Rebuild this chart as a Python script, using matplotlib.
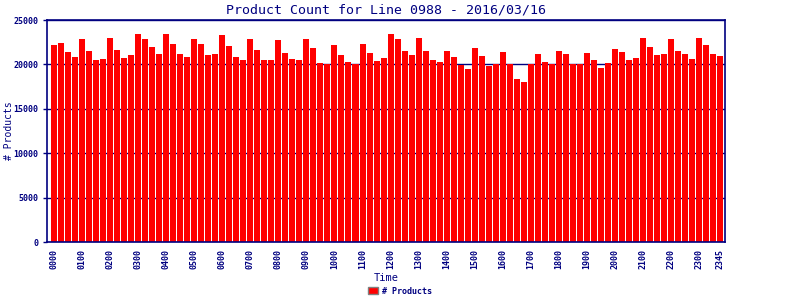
import matplotlib
matplotlib.use('Agg')
import matplotlib.pyplot as plt
import numpy as np

# 15-minute slots for 2016/03/16, line 0988
times = ['%02d%02d' % (h, m) for h in range(24) for m in (0, 15, 30, 45)]
counts = [
    22180, 22400, 21390, 20830, 22860, 21500, 20490, 20600,
    22970, 21620, 20710, 21050, 23420, 22860, 21950, 21170,
    23420, 22290, 21170, 20830, 22860, 22290, 21050, 21170,
    23310, 22070, 20830, 20490, 22860, 21620, 20490, 20490,
    22740, 21280, 20600, 20490, 22860, 21840, 20150, 20040,
    22180, 21050, 20260, 20040, 22290, 21280, 20380, 20710,
    23420, 22860, 21500, 21050, 22970, 21500, 20490, 20260,
    21500, 20830, 19920, 19470, 21840, 20940, 19810, 20040,
    21390, 20040, 18350, 18010, 20040, 21170, 20260, 20040,
    21500, 21170, 20040, 20040, 21280, 20490, 19590, 20150,
    21730, 21390, 20490, 20710, 22970, 21950, 21050, 21170,
    22860, 21500, 21170, 20600, 22970, 22180, 21170, 20940,
]
yticks = [0, 5000, 10000, 15000, 20000, 25000]

navy = '#000080'
plt.rcParams['font.family'] = ['DejaVu Sans Mono']

fig = plt.figure(figsize=(8, 3), dpi=100)
ax = fig.add_axes([47 / 800, 58 / 300, 678 / 800, 222 / 300])

x = np.arange(len(counts))
ax.bar(x, counts, width=6 / 7, color='#ff0000', zorder=2, label='# Products')

ax.set_xlim(-1.0, len(counts) - 0.3)
ax.set_ylim(0, 25000)
ax.set_yticks(yticks)
ax.set_yticklabels([str(v) for v in yticks], fontsize=6, fontweight='bold', color=navy)
ax.yaxis.grid(True, color=navy, linewidth=1.0, zorder=1)
ax.set_axisbelow(True)

tick_idx = list(range(0, len(times), 4)) + [len(times) - 1]
ax.set_xticks(tick_idx)
ax.set_xticklabels([times[i] for i in tick_idx], rotation=90, fontsize=6,
                   fontweight='bold', color=navy)
ax.tick_params(axis='x', length=0, pad=5)
ax.tick_params(axis='y', length=3, width=1, color=navy, pad=3)

for s in ax.spines.values():
    s.set_color(navy)
    s.set_linewidth(1.2)

ax.set_title('Product Count for Line 0988 - 2016/03/16', fontsize=9.5, color=navy, pad=5)
ax.set_xlabel('Time', fontsize=7.5, color=navy, labelpad=3)
fig.text(9 / 800, 0.5 * (58 + 280) / 300, '# Products', rotation=90, fontsize=7,
         color=navy, ha='center', va='center')

leg = fig.legend(loc='lower center', bbox_to_anchor=(0.5, -0.01), frameon=False,
                 fontsize=6, handlelength=1.2, handleheight=0.9, handletextpad=0.4)
for t in leg.get_texts():
    t.set_color(navy)
    t.set_fontweight('bold')
for h in leg.legend_handles:
    h.set_edgecolor('#808080')

fig.savefig('out.png', dpi=100)
